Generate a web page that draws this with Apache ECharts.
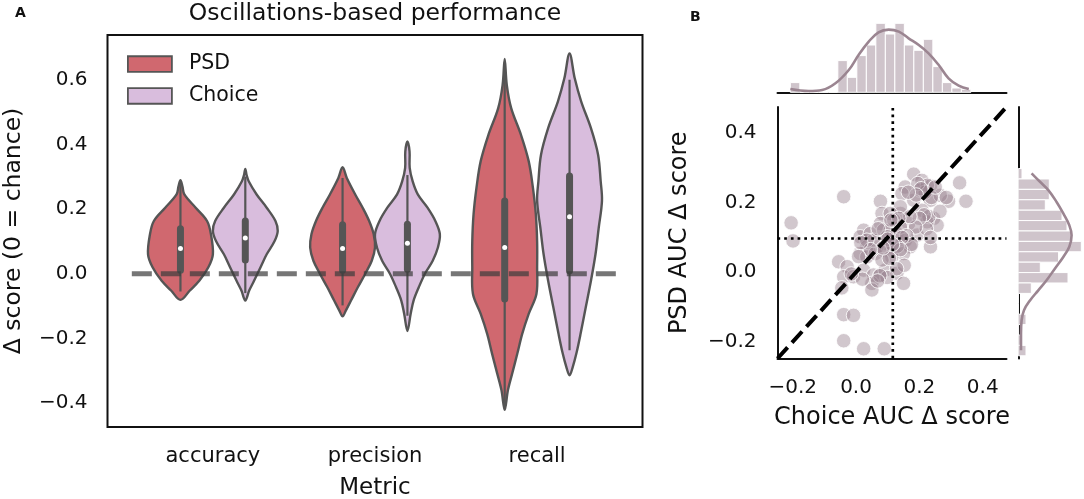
<!DOCTYPE html>
<html><head><meta charset="utf-8">
<script src="https://cdn.jsdelivr.net/npm/echarts@6/dist/echarts.min.js"></script>
<style>html,body{margin:0;padding:0;background:#fff}#c{width:1084px;height:499px}</style>
</head><body><div id="c"></div>
<script>
// ---------- Panel A data ----------
const categories = ['accuracy', 'precision', 'recall'];
const hues = ['PSD', 'Choice'];
const yTicksA = [-0.4, -0.2, 0, 0.2, 0.4, 0.6];
const chanceLevel = 0;

// violin outlines: [score, relative density (1 = widest)]
const psdAccuracy = [[0.289,0],[0.27,0.06],[0.245,0.12],[0.204,0.47],[0.163,0.82],[0.122,0.94],[0.06,1.0],[0.02,0.86],[-0.022,0.58],[-0.052,0.29],[-0.081,0]];
const psdPrecision = [[0.329,0],[0.296,0.13],[0.245,0.39],[0.204,0.62],[0.163,0.82],[0.122,0.96],[0.081,1.0],[0.04,0.9],[0.0,0.7],[-0.042,0.47],[-0.083,0.26],[-0.114,0.1],[-0.132,0]];
const psdRecall = [[0.664,0],[0.583,0.065],[0.512,0.2],[0.43,0.5],[0.348,0.74],[0.266,0.87],[0.184,0.96],[0.10,1.0],[0.02,1.0],[-0.062,0.98],[-0.124,0.74],[-0.186,0.54],[-0.247,0.39],[-0.309,0.23],[-0.36,0.1],[-0.421,0]];
const choiceAccuracy = [[0.324,0],[0.305,0.04],[0.286,0.105],[0.245,0.35],[0.204,0.66],[0.163,0.93],[0.132,1.0],[0.10,0.9],[0.06,0.66],[0.02,0.47],[-0.022,0.27],[-0.052,0.12],[-0.083,0]];
const choicePrecision = [[0.409,0],[0.378,0.065],[0.327,0.07],[0.286,0.16],[0.245,0.32],[0.204,0.62],[0.163,0.86],[0.122,1.0],[0.081,0.94],[0.04,0.78],[0.0,0.54],[-0.042,0.35],[-0.083,0.19],[-0.124,0.1],[-0.177,0]];
const choiceRecall = [[0.681,0],[0.604,0.16],[0.532,0.36],[0.45,0.66],[0.368,0.88],[0.286,0.96],[0.225,1.0],[0.142,0.9],[0.06,0.8],[-0.022,0.66],[-0.104,0.5],[-0.186,0.34],[-0.247,0.21],[-0.288,0.1],[-0.314,0]];

// inner box: [whisker low, q1, median, q3, whisker high]
const psdBoxes = [[-0.055,0.011,0.078,0.139,0.28],[-0.098,0.011,0.078,0.151,0.296],[-0.41,-0.078,0.081,0.225,0.655]];
const choiceBoxes = [[-0.06,0.042,0.11,0.163,0.30],[-0.13,0.014,0.094,0.153,0.305],[-0.237,0.009,0.176,0.302,0.60]];

// ---------- Panel B data ----------
const ticksB = [-0.2, 0, 0.2, 0.4];
const choiceAUC = [-0.205,-0.199,-0.039,0.077,0.327,0.347,0.292,0.182,0.208,0.235,0.155,0.145,0.235,0.208,0.245,0.256,0.224,0.235,0.193,0.140,
  0.166,0.140,0.082,0.077,0.024,0.013,0.045,0.087,0.108,0.129,0.156,0.171,0.098,0.066,0.034,0.013,0.034,0.061,0.087,0.119,
  0.150,-0.055,-0.028,-0.039,-0.008,0.024,0.055,0.077,0.050,0.050,0.092,0.129,0.152,0.150,0.113,-0.039,-0.008,-0.039,0.024,0.089,
  0.108,0.119,0.098,0.182,0.266,0.203,0.055,0.034,0.082,0.140,
  0.225,0.218,0.238,0.230,0.215,0.222,0.235,0.195,0.205,0.190,0.200,0.188,0.250,0.265,0.285,0.165,0.170,0.160,0.175,
  0.135,0.145,0.130,0.140,0.128,0.110,0.100,0.115,0.105,0.098,0.070,0.085,0.075,0.068,0.045,0.015,0.020,0.008,-0.015,-0.045];
const psdAUC = [0.142,0.090,0.217,0.204,0.257,0.204,0.204,0.282,0.264,0.248,0.245,0.226,0.207,0.178,0.155,0.135,0.145,0.073,0.107,0.169,
  0.140,0.188,0.169,0.140,0.121,0.102,0.111,0.121,0.121,0.111,0.092,0.073,0.082,0.073,0.073,0.054,0.044,0.054,0.063,0.068,
  0.054,0.030,0.016,-0.013,-0.013,0.006,-0.008,-0.008,-0.032,-0.051,0.006,-0.003,0.020,-0.032,0.044,-0.122,-0.124,-0.197,-0.220,-0.220,
  0.169,0.150,0.102,0.207,0.221,0.236,0.092,0.092,0.035,0.130,
  0.250,0.230,0.215,0.160,0.165,0.125,0.100,0.255,0.240,0.222,0.155,0.130,0.245,0.175,0.215,0.230,0.160,0.105,0.080,
  0.155,0.100,0.075,0.065,0.010,0.150,0.095,0.080,0.040,-0.015,0.125,0.070,-0.010,-0.025,0.065,0.085,-0.020,0.045,-0.005,-0.045];
const meanChoice = 0.116;
const meanPSD = 0.097;

// marginal histograms (density)
const choiceHistStart = -0.2075, choiceHistBin = 0.03;
const choiceHist = [0.97,0,0,0,0,3.17,1.5,3.67,4.73,6.9,5.83,6.9,4.73,4.2,5.3,2.57,0.97,0.43,0.3];
const psdHistTop = 0.298, psdHistBin = 0.0299;
const psdHist = [0.37,3.1,3.1,2.7,4.37,4.87,5.3,6.3,4.03,2.2,4.97,1.3,0,0,0.77,0,0.37,0.77];
// KDE curves
const choiceKde = [[-0.2075,0.33],[-0.150,0.13],[-0.107,0.23],[-0.065,0.9],[-0.023,2.23],[0.008,3.73],[0.040,5.07],[0.071,6.0],[0.103,6.27],[0.135,6.07],[0.166,5.4],[0.198,4.73],[0.229,3.9],[0.261,2.73],[0.292,1.4],[0.324,0.67],[0.356,0.33]];
const psdKde = [[0.284,1.33],[0.260,2.17],[0.236,3.0],[0.202,3.83],[0.169,4.5],[0.135,5.1],[0.106,5.33],[0.073,5.1],[0.044,4.5],[0.011,3.67],[-0.023,2.83],[-0.052,2.0],[-0.081,1.17],[-0.109,0.57],[-0.138,0.33],[-0.176,0.27],[-0.224,0.27]];

// ---------- styling ----------
const FONT = 'DejaVu Sans';
const PSD_COLOR = '#d0686f';
const CHOICE_COLOR = '#d9bddd';
const EDGE = '#555555';
const VW = 0.2;          // half width of one hue's violin in category units
const HUE_OFFSET = 0.2;
const AX_MIN = -0.248, AX_MAX = 0.475;

const fmt = v => (v < 0 ? '\u2212' : '') + Math.abs(v).toFixed(1);

function violinRenderer(profiles, boxes, offset, fill) {
  return function (params, api) {
    const i = api.value(0);
    const prof = profiles[i], b = boxes[i];
    const cx = i + offset;
    const pts = [];
    for (let k = 0; k < prof.length; k++) pts.push(api.coord([cx + prof[k][1] * VW, prof[k][0]]));
    for (let k = prof.length - 2; k >= 1; k--) pts.push(api.coord([cx - prof[k][1] * VW, prof[k][0]]));
    const lo = api.coord([cx, b[0]]), q1 = api.coord([cx, b[1]]), med = api.coord([cx, b[2]]),
          q3 = api.coord([cx, b[3]]), hi = api.coord([cx, b[4]]);
    return { type: 'group', children: [
      { type: 'polygon', shape: { points: pts, smooth: 0.35 }, style: { fill: fill, stroke: EDGE, lineWidth: 2.4 } },
      { type: 'line', shape: { x1: lo[0], y1: lo[1], x2: hi[0], y2: hi[1] }, style: { stroke: EDGE, lineWidth: 2.2 } },
      { type: 'line', shape: { x1: q1[0], y1: q1[1], x2: q3[0], y2: q3[1] }, style: { stroke: EDGE, lineWidth: 7, lineCap: 'round' } },
      { type: 'circle', shape: { cx: med[0], cy: med[1], r: 2.5 }, style: { fill: '#ffffff' } }
    ]};
  };
}

const psdProfiles = [psdAccuracy, psdPrecision, psdRecall];
const choiceProfiles = [choiceAccuracy, choicePrecision, choiceRecall];

const topBars = choiceHist.map((h, k) => [choiceHistStart + k * choiceHistBin, choiceHistStart + (k + 1) * choiceHistBin, h]);
const rightBars = psdHist.map((w, k) => [psdHistTop - (k + 1) * psdHistBin, psdHistTop - k * psdHistBin, w]);
const scatterData = choiceAUC.map((x, i) => [x, psdAUC[i]]);

const chart = echarts.init(document.getElementById('c'), null, { renderer: 'canvas' });
chart.setOption({
  animation: false,
  backgroundColor: '#ffffff',
  textStyle: { fontFamily: FONT, color: '#111' },
  title: [
    { text: 'Oscillations-based performance', left: 375, top: 2, padding: 0, textAlign: 'center',
      textStyle: { fontFamily: FONT, fontSize: 23.5, fontWeight: 'normal', color: '#111' } },
    { text: 'A', left: 15, top: 6, padding: 0, textStyle: { fontFamily: FONT, fontSize: 14, fontWeight: 'bold', color: '#111' } },
    { text: 'B', left: 690, top: 10, padding: 0, textStyle: { fontFamily: FONT, fontSize: 14, fontWeight: 'bold', color: '#111' } }
  ],
  legend: {
    left: 127, top: 53.6, padding: 0, orient: 'vertical', itemWidth: 44, itemHeight: 15.7, itemGap: 10.8,
    icon: 'rect', selectedMode: false,
    textStyle: { fontFamily: FONT, fontSize: 20.5, color: '#111', padding: [0, 0, 0, 12] },
    data: [
      { name: 'PSD', itemStyle: { color: PSD_COLOR, borderColor: EDGE, borderWidth: 1.8 } },
      { name: 'Choice', itemStyle: { color: CHOICE_COLOR, borderColor: EDGE, borderWidth: 1.8 } }
    ]
  },
  grid: [
    { left: 107.5, top: 35, width: 535, height: 392, show: true, borderColor: '#111', borderWidth: 2, backgroundColor: 'transparent', containLabel: false, outerBoundsMode: 'none' },
    { left: 777.5, top: 107, width: 229, height: 251.5, containLabel: false, outerBoundsMode: 'none' },
    { left: 777.5, top: 10, width: 229, height: 82.3, containLabel: false, outerBoundsMode: 'none' },
    { left: 1018.3, top: 107, width: 65.7, height: 251.5, containLabel: false, outerBoundsMode: 'none' }
  ],
  xAxis: [
    { gridIndex: 0, type: 'value', min: -0.65, max: 2.65,
      axisLine: { show: false }, axisTick: { show: false }, splitLine: { show: false },
      axisLabel: { customValues: [0, 1, 2], formatter: v => categories[Math.round(v)], fontSize: 21, color: '#111', margin: 19.5, fontFamily: FONT },
      name: 'Metric', nameLocation: 'middle', nameGap: 49.5, nameMoveOverlap: false,
      nameTextStyle: { fontSize: 23, color: '#111', fontFamily: FONT } },
    { gridIndex: 1, type: 'value', min: AX_MIN, max: AX_MAX,
      axisLine: { show: true, onZero: false, lineStyle: { color: '#111', width: 2 } }, axisTick: { show: false }, splitLine: { show: false },
      axisLabel: { customValues: ticksB, formatter: fmt, fontSize: 20, color: '#111', margin: 19.5, fontFamily: FONT },
      name: 'Choice AUC \u0394 score', nameLocation: 'middle', nameGap: 47.5, nameMoveOverlap: false,
      nameTextStyle: { fontSize: 24, color: '#111', fontFamily: FONT } },
    { gridIndex: 2, type: 'value', min: AX_MIN, max: AX_MAX,
      axisLine: { show: true, onZero: false, lineStyle: { color: '#111', width: 2 } }, axisTick: { show: false }, axisLabel: { show: false }, splitLine: { show: false } },
    { gridIndex: 3, type: 'value', min: 0, max: 6.57, show: false }
  ],
  yAxis: [
    { gridIndex: 0, type: 'value', min: -0.474, max: 0.738,
      axisLine: { show: false }, axisTick: { show: false }, splitLine: { show: false },
      axisLabel: { customValues: yTicksA, formatter: fmt, fontSize: 20, color: '#111', margin: 20, fontFamily: FONT },
      name: '\u0394 score (0 = chance)', nameLocation: 'middle', nameGap: 82, nameRotate: 90, nameMoveOverlap: false,
      nameTextStyle: { fontSize: 23.5, color: '#111', fontFamily: FONT } },
    { gridIndex: 1, type: 'value', min: AX_MIN, max: AX_MAX,
      axisLine: { show: true, onZero: false, lineStyle: { color: '#111', width: 2 } }, axisTick: { show: false }, splitLine: { show: false },
      axisLabel: { customValues: ticksB, formatter: fmt, fontSize: 20, color: '#111', margin: 21, fontFamily: FONT },
      name: 'PSD AUC \u0394 score', nameLocation: 'middle', nameGap: 85.5, nameRotate: 90, nameMoveOverlap: false,
      nameTextStyle: { fontSize: 24, color: '#111', fontFamily: FONT } },
    { gridIndex: 2, type: 'value', min: 0, max: 8.23, show: false },
    { gridIndex: 3, type: 'value', min: AX_MIN, max: AX_MAX,
      axisLine: { show: true, onZero: false, lineStyle: { color: '#111', width: 2 } }, axisTick: { show: false }, axisLabel: { show: false }, splitLine: { show: false } }
  ],
  series: [
    { name: 'PSD', type: 'custom', xAxisIndex: 0, yAxisIndex: 0, itemStyle: { color: PSD_COLOR },
      renderItem: violinRenderer(psdProfiles, psdBoxes, -HUE_OFFSET, PSD_COLOR),
      data: categories.map((c, i) => [i, 0]), z: 2, silent: true },
    { name: 'Choice', type: 'custom', xAxisIndex: 0, yAxisIndex: 0, itemStyle: { color: CHOICE_COLOR },
      renderItem: violinRenderer(choiceProfiles, choiceBoxes, HUE_OFFSET, CHOICE_COLOR),
      data: categories.map((c, i) => [i, 0]), z: 2, silent: true },
    { name: 'chance', type: 'line', xAxisIndex: 0, yAxisIndex: 0, symbol: 'none', silent: true, z: 5,
      data: [[-0.5, chanceLevel], [2.5, chanceLevel]],
      lineStyle: { color: 'rgba(60,60,60,0.7)', width: 5, type: [20, 9] } },

    { name: 'sessions', type: 'scatter', xAxisIndex: 1, yAxisIndex: 1, data: scatterData, symbolSize: 14.5, silent: true, z: 3,
      itemStyle: { color: 'rgba(152,130,144,0.45)', borderColor: 'rgba(255,255,255,0.85)', borderWidth: 1, opacity: 1 } },
    { name: 'identity', type: 'line', xAxisIndex: 1, yAxisIndex: 1, symbol: 'none', silent: true, z: 4,
      data: [[AX_MIN, AX_MIN], [AX_MAX, AX_MAX]], lineStyle: { color: '#000', width: 4, type: [15, 6.5] } },
    { name: 'meanChoice', type: 'line', xAxisIndex: 1, yAxisIndex: 1, symbol: 'none', silent: true, z: 4,
      data: [[meanChoice, AX_MIN], [meanChoice, AX_MAX]], lineStyle: { color: '#000', width: 2.7, type: [2.7, 4] } },
    { name: 'meanPSD', type: 'line', xAxisIndex: 1, yAxisIndex: 1, symbol: 'none', silent: true, z: 4,
      data: [[AX_MIN, meanPSD], [AX_MAX, meanPSD]], lineStyle: { color: '#000', width: 2.7, type: [2.7, 4] } },

    { name: 'choiceHist', type: 'custom', xAxisIndex: 2, yAxisIndex: 2, data: topBars, silent: true,
      renderItem: function (params, api) {
        const p0 = api.coord([api.value(0), 0]), p1 = api.coord([api.value(1), api.value(2)]);
        return { type: 'rect', shape: { x: p0[0], y: p1[1], width: p1[0] - p0[0], height: p0[1] - p1[1] },
                 style: { fill: '#cfc4cb', stroke: '#ffffff', lineWidth: 1 } };
      } },
    { name: 'choiceKde', type: 'line', xAxisIndex: 2, yAxisIndex: 2, data: choiceKde, symbol: 'none', smooth: 0.4, silent: true, z: 3,
      lineStyle: { color: '#9b8591', width: 2.6 } },
    { name: 'psdHist', type: 'custom', xAxisIndex: 3, yAxisIndex: 3, data: rightBars, silent: true,
      renderItem: function (params, api) {
        const p0 = api.coord([0, api.value(0)]), p1 = api.coord([api.value(2), api.value(1)]);
        return { type: 'rect', shape: { x: p0[0], y: p1[1], width: p1[0] - p0[0], height: p0[1] - p1[1] },
                 style: { fill: '#cfc4cb', stroke: '#ffffff', lineWidth: 1 } };
      } },
    { name: 'psdKde', type: 'line', xAxisIndex: 3, yAxisIndex: 3, data: psdKde.map(p => [p[1], p[0]]), symbol: 'none', smooth: 0.4, silent: true, z: 3,
      lineStyle: { color: '#9b8591', width: 2.6 } }
  ]
});
</script></body></html>
